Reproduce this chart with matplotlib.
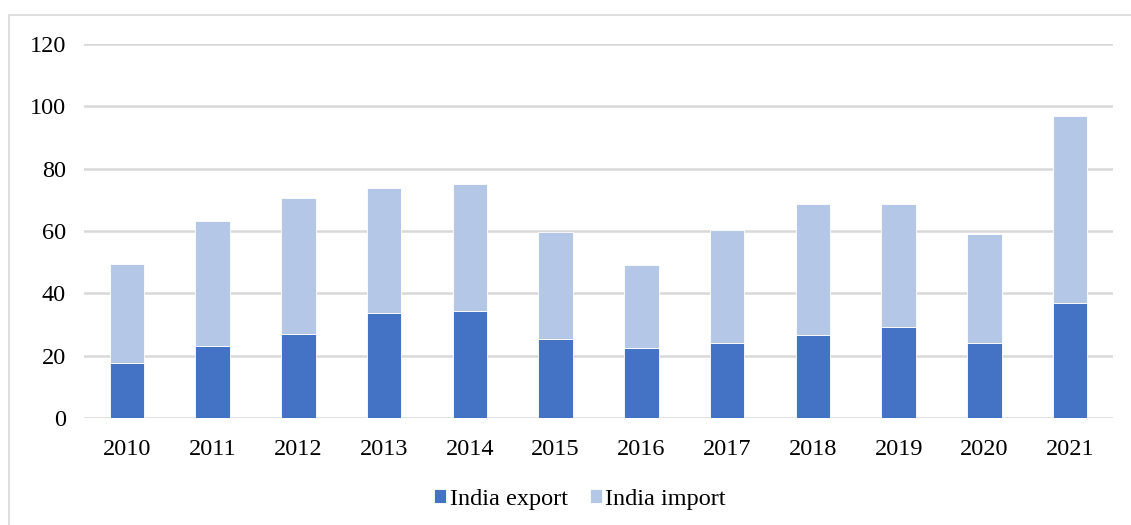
import matplotlib
matplotlib.use("Agg")
import matplotlib.pyplot as plt
from matplotlib.patches import Rectangle
import numpy as np

years = ["2010", "2011", "2012", "2013", "2014", "2015", "2016", "2017", "2018", "2019", "2020", "2021"]
india_export = [17.6, 23.1, 27.0, 33.8, 34.4, 25.3, 22.3, 24.2, 26.7, 29.3, 24.2, 36.9]
india_import = [31.9, 40.2, 43.6, 40.0, 40.8, 34.5, 26.8, 36.1, 42.0, 39.4, 34.7, 60.0]
y_ticks = [0, 20, 40, 60, 80, 100, 120]

plt.rcParams['font.family'] = ['Liberation Serif', 'DejaVu Serif']

W, H = 1131, 525
fig = plt.figure(figsize=(W / 100, H / 100), dpi=100)
fig.patch.set_facecolor("white")

# outer chart border
fig.add_artist(Rectangle((9 / W, -0.1), 1.2, 1 - 15 / H + 0.1, transform=fig.transFigure,
                         fill=False, edgecolor="#d9d9d9", linewidth=1.2))

ax_left, ax_right = 84 / W, 1113 / W
ax_top, ax_bottom = 1 - 44 / H, 1 - 418 / H
ax = fig.add_axes([ax_left, ax_bottom, ax_right - ax_left, ax_top - ax_bottom])

x = np.arange(len(years))
bw = 0.40
ax.bar(x, india_export, bw, color="#4472C4", edgecolor="white", linewidth=0.6,
       label="India export", zorder=3)
ax.bar(x, india_import, bw, bottom=india_export, color="#B4C7E7", edgecolor="white",
       linewidth=0.6, label="India import", zorder=3)

ax.set_xlim(-0.5, len(years) - 0.5)
ax.set_ylim(0, 120)
ax.set_yticks(y_ticks)
ax.set_yticklabels([str(t) for t in y_ticks])
ax.set_xticks(x)
ax.set_xticklabels(years)
ax.grid(axis="y", color="#d9d9d9", linewidth=1.8, zorder=0)
ax.set_axisbelow(True)
for s in ax.spines.values():
    s.set_visible(False)
ax.tick_params(axis="both", length=0, labelsize=17.5, colors="black")
ax.tick_params(axis="y", pad=13)
ax.tick_params(axis="x", pad=15)

leg = fig.legend(loc="center", bbox_to_anchor=(580 / W, 1 - 499 / H), ncol=2, frameon=False,
                 fontsize=17.5, handlelength=0.5, handleheight=0.5, handletextpad=0.15,
                 columnspacing=0.9)

fig.savefig("out.png", dpi=100, facecolor="white")
